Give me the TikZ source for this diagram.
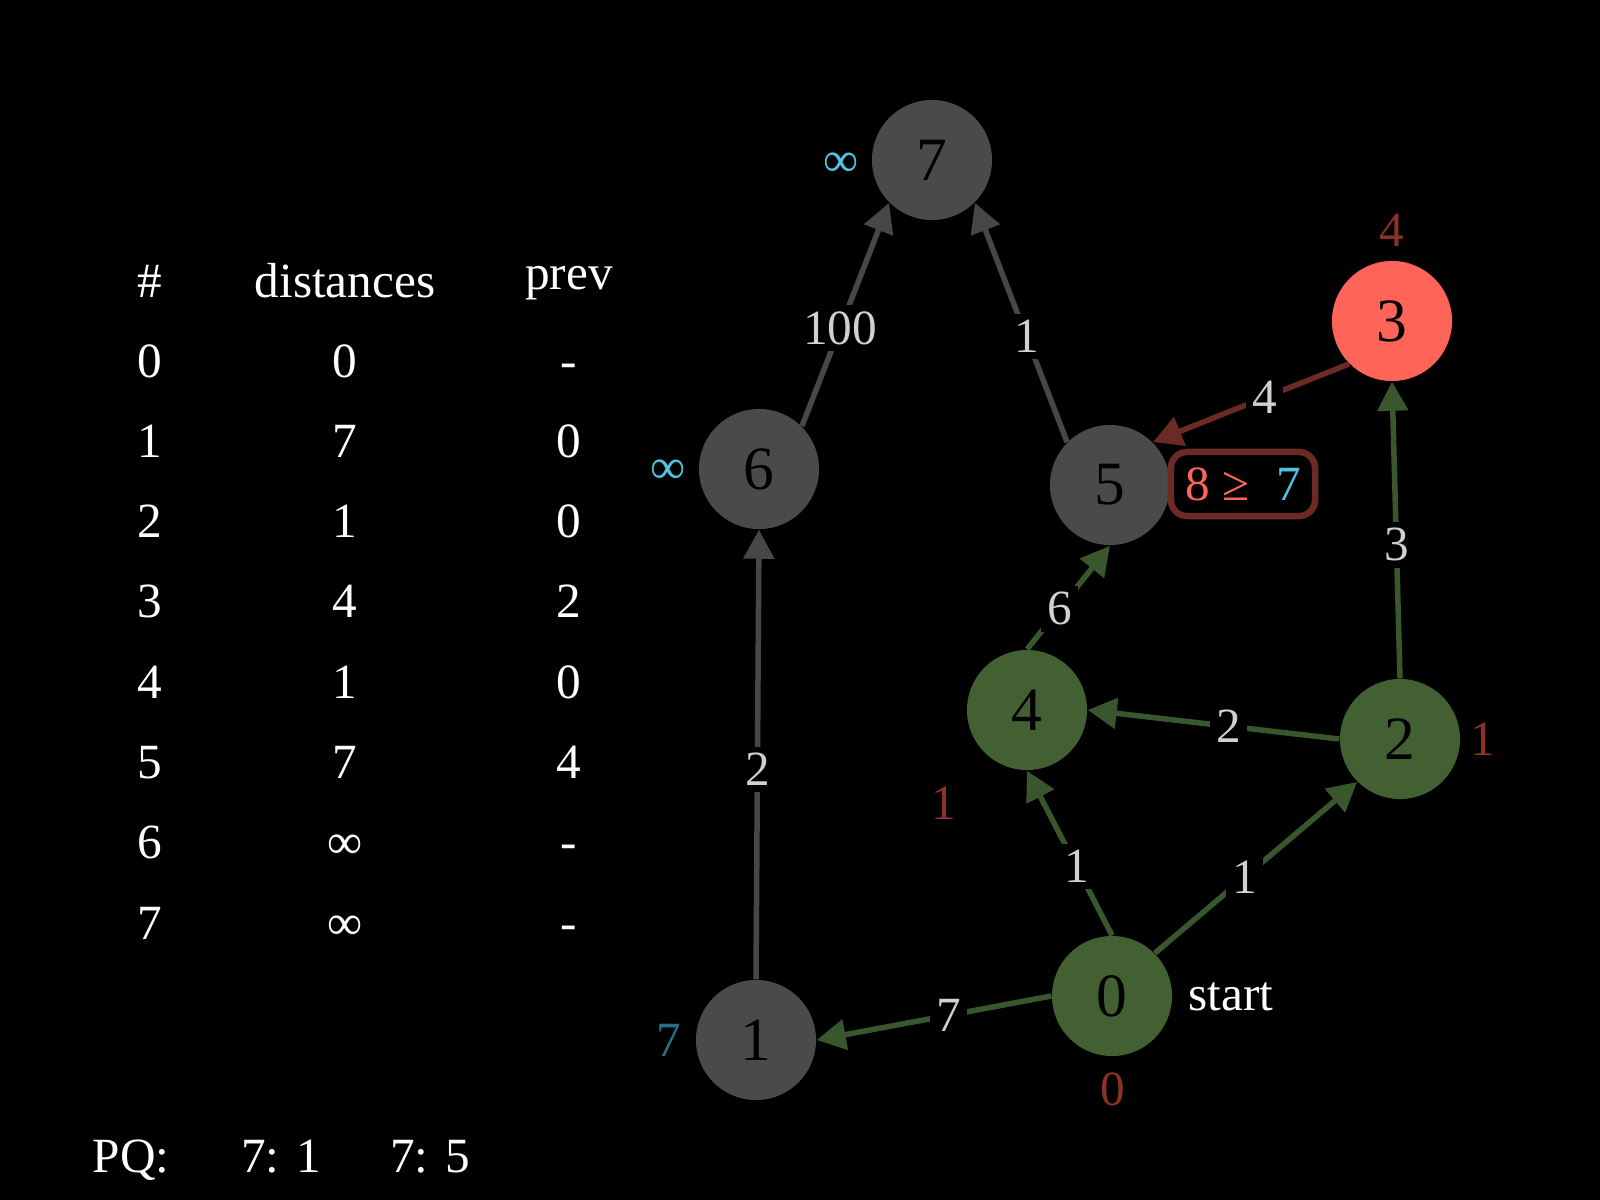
\documentclass[tikz,border=0pt]{standalone}
\usepackage{fontspec}
\setmainfont{Liberation Serif}
\usetikzlibrary{arrows.meta,calc}
\definecolor{nodegray}{HTML}{4A4A4A}
\definecolor{edgegray}{HTML}{474747}
\definecolor{nodegreen}{HTML}{426032}
\definecolor{edgegreen}{HTML}{3A562C}
\definecolor{salmon}{HTML}{FF6458}
\definecolor{edgered}{HTML}{6B2A24}
\definecolor{distred}{HTML}{8C3228}
\definecolor{infcyan}{HTML}{50C4DE}
\definecolor{tealdist}{HTML}{2C6E80}
\definecolor{elabgray}{HTML}{D0D0D0}
\tikzset{
  vtx/.style={circle,minimum size=1.2cm,inner sep=0pt,text=black,font=\fontsize{17.5pt}{20pt}\selectfont},
  grayv/.style={vtx,fill=nodegray},
  greenv/.style={vtx,fill=nodegreen},
  redv/.style={vtx,fill=salmon},
  edg/.style={line width=0.55mm,-{Triangle[length=2.9mm,width=3mm]}},
  gedge/.style={edg,draw=edgegray},
  grnedge/.style={edg,draw=edgegreen},
  redge/.style={edg,draw=edgered},
  elab/.style={fill=black,inner sep=1.8pt,text=elabgray,font=\fontsize{14pt}{16pt}\selectfont},
  ann/.style={inner sep=0pt,font=\fontsize{14pt}{16pt}\selectfont},
  tabhead/.style={inner sep=0pt,anchor=base,text=white,font=\fontsize{14pt}{16pt}\selectfont},
  tabcell/.style={inner sep=0pt,anchor=base,text=white,font=\fontsize{14pt}{16pt}\selectfont},
  pqtext/.style={inner sep=0pt,anchor=base,text=white,font=\fontsize{14pt}{16pt}\selectfont},
}
\begin{document}
\begin{tikzpicture}[x=0.01cm,y=-0.01cm]
\fill[black] (0,0) rectangle (1600,1200);
\useasboundingbox (0,0) rectangle (1600,1200);

% vertices
\node[grayv]  (n7) at (932,160) {7};
\node[grayv]  (n6) at (759,469) {6};
\node[grayv]  (n5) at (1110,485) {5};
\node[redv]   (n3) at (1392,321) {3};
\node[greenv] (n4) at (1027,710) {4};
\node[greenv] (n2) at (1400,739) {2};
\node[greenv] (n0) at (1112,996) {0};
\node[grayv]  (n1) at (756,1040) {1};

% edges
\draw[gedge]   (n6.north east) -- node[elab,pos=0.438] (l67) {100} (n7.south west);
\draw[gedge]   (n5.north west) -- node[elab,pos=0.442] (l57) {1} (n7.south east);
\draw[redge]   (n3.south west) -- node[elab,pos=0.43] (l35) {4} (n5.north east);
\draw[grnedge] (n2.north) -- node[elab,pos=0.45] (l23) {3} (n3.south);
\draw[grnedge] (n4.north) -- node[elab,pos=0.39] (l45) {6} (n5.south);
\draw[grnedge] (n2.west) -- node[elab,pos=0.44] (l24) {2} (n4.east);
\draw[gedge]   (n1.north) -- node[elab,pos=0.467] (l16) {2} (n6.south);
\draw[grnedge] (n0.north) -- node[elab,pos=0.42] (l04) {1} (n4.south);
\draw[grnedge] (n0.north east) -- node[elab,pos=0.444] (l02) {1} (n2.south west);
\draw[grnedge] (n0.west) -- node[elab,pos=0.4375] (l01) {7} (n1.east);

% annotations
\node[ann,text=infcyan] (d7) at (841,165) {∞};
\node[ann,text=infcyan] (d6) at (668,472) {∞};
\node[ann,text=distred] (d3) at (1392,230) {4};
\node[ann,text=distred] (d2) at (1483,739) {1};
\node[ann,text=distred] (d4) at (944,803) {1};
\node[ann,text=distred] (d0) at (1113,1089) {0};
\node[ann,text=tealdist] (d1) at (669,1040) {7};
\node[pqtext,anchor=base west] (st) at (1188,1010) {start};

% relaxation box
\node[draw=edgered,line width=0.65mm,rounded corners=1.6mm,minimum width=1.44cm,minimum height=0.64cm,inner sep=0pt,
      font=\fontsize{14pt}{16pt}\selectfont] (cmp) at (1243,484)
      {\textcolor{salmon}{8 ≥}\hspace{0.55em}\textcolor{infcyan}{7}};

% table header
\node[tabhead] (hh) at (150,297) {\#};
\node[tabhead] (hd) at (345,297) {distances};
\node[tabhead] (hp) at (569,289) {prev};

% table rows
\foreach \i/\d/\p in {0/0/-,1/7/0,2/1/0,3/4/2,4/1/0,5/7/4,6/∞/-,7/∞/-}{
  \node[tabcell] (r\i a) at (150,{377+80.3*\i}) {\i};
  \node[tabcell] (r\i b) at (345,{377+80.3*\i}) {\d};
  \node[tabcell] (r\i c) at (569,{377+80.3*\i}) {\p};
}

% priority queue
\node[pqtext] (pq) at (131,1172) {PQ:};
\node[pqtext] (pq1) at (281,1172) {7: 1};
\node[pqtext] (pq2) at (430,1172) {7: 5};
\end{tikzpicture}
\end{document}
